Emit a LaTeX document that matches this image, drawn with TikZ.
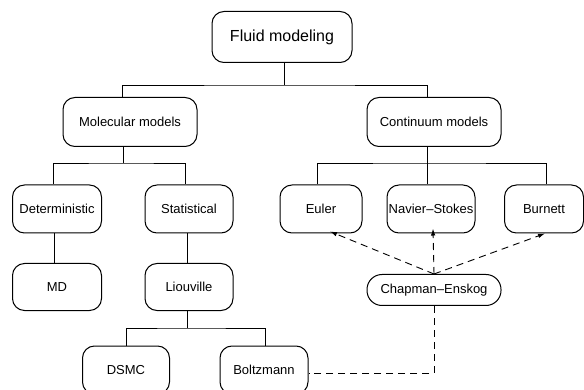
\documentclass[tikz,border=0pt]{standalone}
\usepackage{fontspec}
\setmainfont{Liberation Sans}
\usetikzlibrary{arrows.meta}
\begin{document}
\begin{tikzpicture}[x=1pt,y=-1pt,
  box/.style={draw, line width=1pt, rounded corners=12pt, inner sep=0pt, font=\fontsize{13}{15}\selectfont, text=black},
  tree/.style={draw, line width=0.9pt},
  dep/.style={draw, line width=0.9pt, dash pattern=on 7pt off 5pt},
  deparr/.style={dep, -{Latex[length=7pt,width=4.5pt]}}]
\useasboundingbox (0,0) rectangle (584,390);
\clip (0,0) rectangle (584,390);
\node[box, minimum width=140pt, minimum height=51pt, font=\fontsize{16}{18}\selectfont] (fluid) at (282,37) {Fluid modeling};
\node[box, minimum width=134pt, minimum height=49pt] (mol) at (130,122) {Molecular models};
\node[box, minimum width=134pt, minimum height=49pt] (cont) at (434,122) {Continuum models};
\node[box, minimum width=89pt, minimum height=48pt] (det) at (57,209) {Deterministic};
\node[box, minimum width=88pt, minimum height=48pt] (stat) at (189,209) {Statistical};
\node[box, minimum width=82pt, minimum height=48pt] (euler) at (321,209) {Euler};
\node[box, minimum width=88pt, minimum height=48pt] (ns) at (431,209) {Navier--Stokes};
\node[box, minimum width=79pt, minimum height=48pt] (burnett) at (544,209) {Burnett};
\node[box, minimum width=89pt, minimum height=47pt] (md) at (57,287) {MD};
\node[box, minimum width=88pt, minimum height=47pt] (liou) at (189,287) {Liouville};
\node[box, minimum width=87pt, minimum height=48pt] (dsmc) at (126,370) {DSMC};
\node[box, minimum width=88pt, minimum height=48pt] (boltz) at (264,370) {Boltzmann};
\node[box, rounded corners=15pt, minimum width=134pt, minimum height=31pt] (chap) at (434,290) {Chapman--Enskog};

% tree connectors
\draw[tree] ([xshift=2pt]fluid.south) -- ++(0,22) coordinate (j1);
\draw[tree] ([xshift=-8pt]mol.north) |- (j1) -| ([xshift=-7pt]cont.north);
\draw[tree] ([xshift=-7pt]mol.south) -- ++(0,16) coordinate (j2);
\draw[tree] ([xshift=-4pt]det.north) |- (j2) -| ([xshift=-4pt]stat.north);
\draw[tree] ([xshift=-7pt]cont.south) -- ++(0,16) coordinate (j3);
\draw[tree] ([xshift=-4pt]euler.north) |- (j3) -| ([xshift=2pt]burnett.north);
\draw[tree] (j3) -- ([xshift=-4pt]ns.north);
\draw[tree] ([xshift=-3pt]det.south) -- ([xshift=-3pt]md.north);
\draw[tree] ([xshift=-2pt]stat.south) -- ([xshift=-2pt]liou.north);
\draw[tree] ([xshift=-2pt]liou.south) -- ++(0,17) coordinate (j4);
\draw[tree] (dsmc.north) |- (j4) -| ([xshift=1pt]boltz.north);

% dashed dependencies
\draw[deparr] (chap.north) -- ([xshift=9pt,yshift=2pt]euler.south);
\draw[deparr] (chap.north) -- ([xshift=2pt,yshift=5pt]ns.south);
\draw[deparr] (chap.north) -- ([xshift=1pt]burnett.south);
\draw[dep] (chap.south) |- ([yshift=-3pt]boltz.east);
\end{tikzpicture}
\end{document}
